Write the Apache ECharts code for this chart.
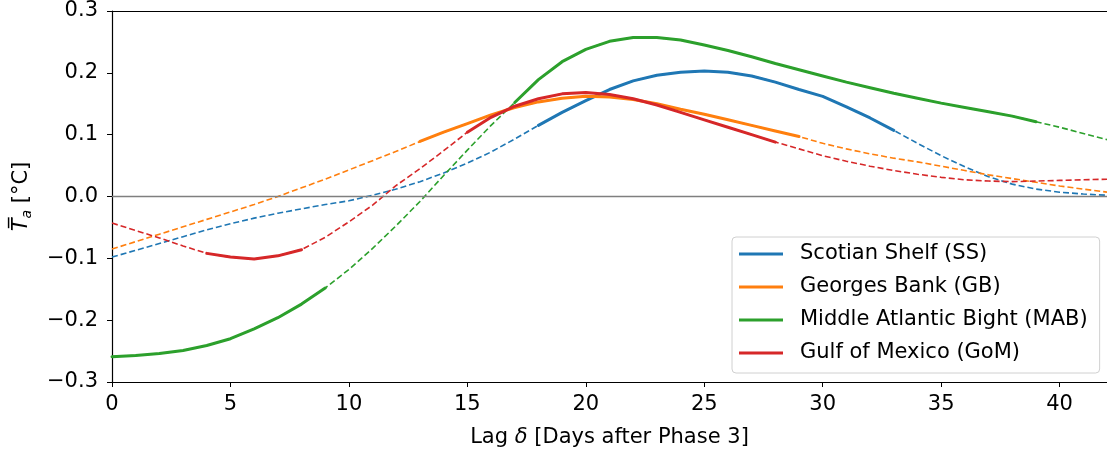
<!DOCTYPE html>
<html>
<head>
<meta charset="utf-8">
<script src="https://cdn.jsdelivr.net/npm/echarts@6/dist/echarts.min.js"></script>
<style>html,body{margin:0;padding:0;background:#fff;}#c{width:1107px;height:455px;}</style>
</head>
<body>
<div id="c"></div>
<script>
// Lag (days after phase 3)
const lags = [0,1,2,3,4,5,6,7,8,9,10,11,12,13,14,15,16,17,18,19,20,21,22,23,24,25,26,27,28,29,30,31,32,33,34,35,36,37,38,39,40,41,42];
const xTicks = [0,5,10,15,20,25,30,35,40];
const yTicks = [-0.3,-0.2,-0.1,0.0,0.1,0.2,0.3];
const seriesNames = ['Scotian Shelf (SS)','Georges Bank (GB)','Middle Atlantic Bight (MAB)','Gulf of Mexico (GoM)'];

const ssValues = [-0.098,-0.087,-0.076,-0.065,-0.054,-0.044,-0.035,-0.027,-0.020,-0.013,-0.007,0.002,0.012,0.024,0.038,0.054,0.072,0.093,0.115,0.136,0.155,0.173,0.187,0.196,0.201,0.203,0.201,0.195,0.185,0.173,0.162,0.145,0.127,0.107,0.086,0.066,0.048,0.032,0.020,0.012,0.007,0.004,0.002];
const gbValues = [-0.085,-0.073,-0.061,-0.049,-0.037,-0.025,-0.013,0.000,0.014,0.028,0.043,0.058,0.073,0.089,0.104,0.118,0.132,0.144,0.153,0.159,0.162,0.161,0.157,0.150,0.141,0.133,0.124,0.115,0.106,0.097,0.086,0.077,0.069,0.062,0.056,0.049,0.042,0.035,0.029,0.023,0.017,0.012,0.007];
const mabValues = [-0.259,-0.257,-0.254,-0.249,-0.241,-0.230,-0.214,-0.196,-0.174,-0.148,-0.118,-0.084,-0.047,-0.008,0.034,0.075,0.115,0.152,0.189,0.218,0.238,0.251,0.257,0.257,0.253,0.245,0.236,0.226,0.215,0.205,0.195,0.185,0.176,0.167,0.159,0.151,0.144,0.137,0.130,0.121,0.112,0.102,0.092];
const gomValues = [-0.043,-0.055,-0.067,-0.080,-0.092,-0.098,-0.101,-0.096,-0.086,-0.066,-0.041,-0.014,0.018,0.045,0.074,0.104,0.128,0.146,0.158,0.166,0.168,0.165,0.158,0.148,0.136,0.124,0.112,0.100,0.088,0.077,0.066,0.057,0.049,0.042,0.036,0.031,0.027,0.025,0.024,0.025,0.026,0.027,0.028];

// significant (solid) lag ranges
const ssSignificant = [[18,33]];
const gbSignificant = [[13,29]];
const mabSignificant = [[0,9],[17,39]];
const gomSignificant = [[4,8],[15,28]];

const colors = ['#1f77b4','#ff7f0e','#2ca02c','#d62728'];
const allValues = [ssValues, gbValues, mabValues, gomValues];
const allSig = [ssSignificant, gbSignificant, mabSignificant, gomSignificant];

function inRanges(x, ranges){ return ranges.some(r => x >= r[0] && x <= r[1]); }
function fmtY(v){ const s = Math.abs(v) < 1e-9 ? '0.0' : v.toFixed(1); return s.replace('-', '\u2212'); }

const series = [];
allValues.forEach((vals, i) => {
  series.push({
    name: seriesNames[i] + ' (all lags)',
    type: 'line', showSymbol: false, symbol: 'none', silent: true,
    data: lags.map((x, k) => [x, vals[k]]),
    lineStyle: { color: colors[i], width: 1.6, type: [6, 3] },
    itemStyle: { color: colors[i] },
    z: 2,
    markLine: i === 0 ? {
      silent: true, symbol: ['none','none'], label: { show: false },
      lineStyle: { color: '#7f7f7f', width: 1.4, type: 'solid' },
      data: [{ yAxis: 0 }], animation: false
    } : undefined
  });
});
allValues.forEach((vals, i) => {
  series.push({
    name: seriesNames[i],
    type: 'line', showSymbol: false, symbol: 'none', silent: true,
    data: lags.map((x, k) => [x, inRanges(x, allSig[i]) ? vals[k] : null]),
    lineStyle: { color: colors[i], width: 3, cap: 'round' },
    itemStyle: { color: colors[i] },
    z: 3
  });
});

const chart = echarts.init(document.getElementById('c'), null, { renderer: 'canvas' });
const font = 'DejaVu Sans';
const fs = 21;
chart.setOption({
  animation: false,
  backgroundColor: '#fff',
  textStyle: { fontFamily: font },
  grid: { left: 112, top: 11, width: 997.5, height: 371, containLabel: false },
  legend: {
    data: seriesNames,
    orient: 'vertical',
    left: 732, top: 237,
    icon: 'rect', itemWidth: 44, itemHeight: 3, itemGap: 9,
    padding: [5, 12, 8, 7],
    borderColor: '#d0d0d0', borderWidth: 1, borderRadius: 4,
    backgroundColor: 'rgba(255,255,255,0.85)',
    textStyle: { fontFamily: font, fontSize: fs, color: '#000', lineHeight: 24, padding: [0, 0, 0, 12] }
  },
  xAxis: [{
    type: 'value', min: 0, max: 42, interval: 5,
    name: 'Lag {i|δ} [Days after Phase 3]',
    nameLocation: 'middle', nameGap: 45,
    nameTextStyle: { fontFamily: font, fontSize: fs, color: '#000',
      rich: { i: { fontFamily: font, fontStyle: 'italic', fontSize: fs, color: '#000' } } },
    axisLine: { show: true, onZero: false, lineStyle: { color: '#000', width: 1.2 } },
    axisTick: { show: true, inside: false, length: 5, lineStyle: { color: '#000', width: 1 } },
    axisLabel: { fontFamily: font, fontSize: fs, color: '#000', margin: 12, showMaxLabel: false,
      formatter: v => xTicks.includes(v) ? String(v) : '' },
    splitLine: { show: false }
  }, {
    type: 'value', min: 0, max: 42, position: 'top',
    axisLine: { show: true, onZero: false, lineStyle: { color: '#000', width: 1.2 } },
    axisTick: { show: false }, axisLabel: { show: false }, splitLine: { show: false }
  }],
  yAxis: {
    type: 'value', min: -0.3, max: 0.3, interval: 0.1,
    name: '{t|T\u0305}{s|a} [°C]',
    nameLocation: 'middle', nameRotate: 90, nameGap: 78,
    nameTextStyle: { fontFamily: font, fontSize: fs, color: '#000',
      rich: {
        t: { fontFamily: font, fontStyle: 'italic', fontSize: fs, color: '#000' },
        s: { fontFamily: font, fontStyle: 'italic', fontSize: 14, color: '#000', padding: [10, 0, 0, 0] }
      } },
    axisLine: { show: true, onZero: false, lineStyle: { color: '#000', width: 1.2 } },
    axisTick: { show: true, inside: false, length: 5, lineStyle: { color: '#000', width: 1 } },
    axisLabel: { fontFamily: font, fontSize: fs, color: '#000', margin: 14,
      formatter: v => { const t = yTicks.find(y => Math.abs(y - v) < 1e-6); return t === undefined ? '' : fmtY(t); } },
    splitLine: { show: false }
  },
  series: series
});
</script>
</body>
</html>
